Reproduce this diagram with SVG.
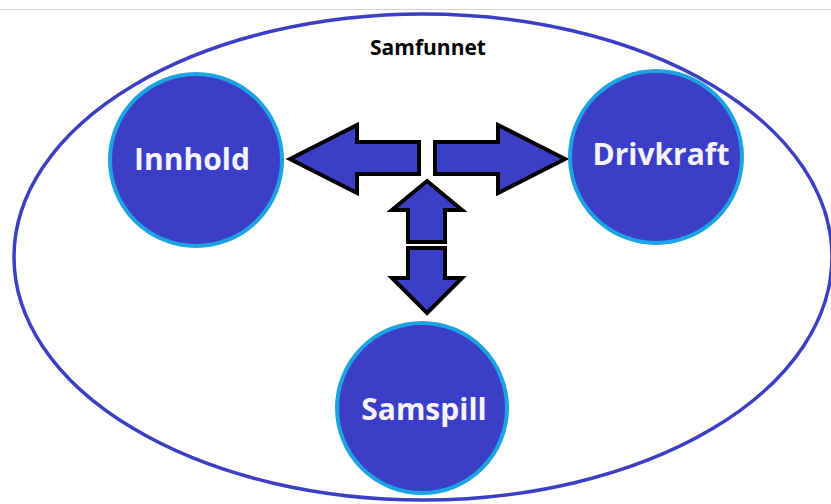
<svg xmlns="http://www.w3.org/2000/svg" width="831" height="504" viewBox="0 0 831 504">
<style>
.node{fill:#3b3fc8;stroke:#1ba3e4;stroke-width:4}
.lbl{font-family:"Open Sans","Liberation Sans",sans-serif;font-weight:bold;fill:#f4f4fa;text-anchor:middle}
.arr{fill:#3b3fc8;stroke:#000;stroke-width:4;stroke-linejoin:miter}
</style>
<rect width="831" height="504" fill="#fff"/>
<line x1="0" y1="9.5" x2="831" y2="9.5" stroke="#cdd5e0" stroke-width="1"/>
<g id="samfunnet">
<ellipse cx="423" cy="257" rx="409" ry="243" fill="none" stroke="#3a3fc4" stroke-width="3.5"/>
<text x="428" y="55" font-family="Open Sans, Liberation Sans, sans-serif" font-weight="bold" font-size="21" fill="#000" text-anchor="middle">Samfunnet</text>
</g>
<g id="connectors">
<path class="arr" d="M290,159 L357,125 L357,142 L419,142 L419,174 L357,174 L357,193 Z"/>
<path class="arr" d="M565,159 L498,125 L498,142 L435,142 L435,174 L498,174 L498,193 Z"/>
<path class="arr" d="M427,181 L462,210 L445,210 L445,242 L408,242 L408,210 L392,210 Z"/>
<path class="arr" d="M427,313 L462,278 L445,278 L445,248 L408,248 L408,278 L392,278 Z"/>
</g>
<g id="innhold">
<circle class="node" cx="196" cy="160" r="86"/>
<text class="lbl" x="192" y="170" font-size="30">Innhold</text>
</g>
<g id="drivkraft">
<circle class="node" cx="656" cy="157" r="86"/>
<text class="lbl" x="661" y="165" font-size="30">Drivkraft</text>
</g>
<g id="samspill">
<circle class="node" cx="422" cy="408" r="85"/>
<text class="lbl" x="424" y="420" font-size="30">Samspill</text>
</g>
</svg>
